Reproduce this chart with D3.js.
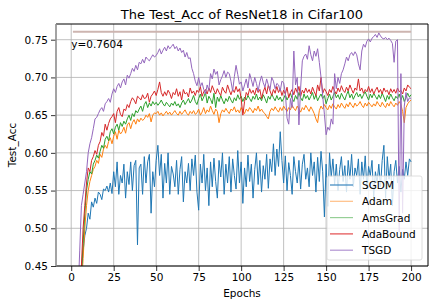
<!DOCTYPE html>
<html>
<head>
<meta charset="utf-8">
<script src="https://cdn.jsdelivr.net/npm/d3@7"></script>
<style>
  html, body { margin: 0; padding: 0; background: #fff; }
  svg text { font-family: "DejaVu Sans", sans-serif; fill: #000; }
</style>
</head>
<body>
<div id="chart"></div>
<script>
// series names and colours
const names = ["SGDM", "Adam", "AmsGrad", "AdaBound", "TSGD"];
const colors = ["#1f77b4", "#ff7f0e", "#2ca02c", "#d62728", "#9467bd"];
const legendColors = ["#3a86be", "#ffbf85", "#96cf96", "#e34a4b", "#b294d2"];

const xTicks = [0, 25, 50, 75, 100, 125, 150, 175, 200];
const yTicks = [0.45, 0.50, 0.55, 0.60, 0.65, 0.70, 0.75];
const bestAcc = 0.7604;

// test accuracy per epoch (1..200)
const sgdm = [
  0.08, 0.18, 0.26, 0.33, 0.39, 0.44, 0.47, 0.49, 0.50, 0.52,
  0.512, 0.535, 0.528, 0.540, 0.533, 0.548, 0.545, 0.538, 0.552, 0.550,
  0.556, 0.548, 0.560, 0.546, 0.575, 0.555, 0.588, 0.545, 0.570, 0.560,
  0.585, 0.540, 0.575, 0.558, 0.588, 0.550, 0.583, 0.590, 0.478, 0.580,
  0.585, 0.545, 0.595, 0.560, 0.588, 0.598, 0.520, 0.575, 0.555, 0.590,
  0.610, 0.570, 0.598, 0.540, 0.586, 0.560, 0.600, 0.545, 0.582, 0.572,
  0.555, 0.590, 0.545, 0.578, 0.595, 0.535, 0.575, 0.560, 0.586, 0.550,
  0.592, 0.570, 0.597, 0.548, 0.524, 0.585, 0.560, 0.598, 0.550, 0.580,
  0.530, 0.588, 0.555, 0.593, 0.562, 0.540, 0.590, 0.568, 0.600, 0.545,
  0.585, 0.560, 0.595, 0.548, 0.592, 0.570, 0.552, 0.603, 0.560, 0.588,
  0.533, 0.580, 0.555, 0.597, 0.562, 0.585, 0.540, 0.578, 0.600, 0.558,
  0.590, 0.548, 0.583, 0.565, 0.598, 0.553, 0.592, 0.575, 0.612, 0.570,
  0.605, 0.582, 0.628, 0.590, 0.560, 0.596, 0.550, 0.587, 0.570, 0.545,
  0.595, 0.575, 0.560, 0.590, 0.552, 0.585, 0.598, 0.565, 0.580, 0.555,
  0.600, 0.570, 0.588, 0.548, 0.594, 0.562, 0.602, 0.575, 0.515, 0.585,
  0.529, 0.600, 0.568, 0.592, 0.558, 0.585, 0.550, 0.578, 0.595, 0.562,
  0.583, 0.548, 0.590, 0.565, 0.598, 0.555, 0.580, 0.570, 0.592, 0.545,
  0.588, 0.565, 0.596, 0.552, 0.582, 0.570, 0.590, 0.540, 0.575, 0.560,
  0.585, 0.555, 0.590, 0.610, 0.540, 0.595, 0.565, 0.585, 0.530, 0.575,
  0.590, 0.560, 0.582, 0.548, 0.578, 0.565, 0.588, 0.570, 0.592, 0.588
];
const adam = [
  0.10, 0.19, 0.27, 0.33, 0.38, 0.42, 0.46, 0.50, 0.53, 0.55,
  0.562, 0.570, 0.578, 0.582, 0.590, 0.586, 0.598, 0.594, 0.605, 0.610,
  0.606, 0.615, 0.620, 0.612, 0.622, 0.628, 0.618, 0.630, 0.625, 0.628,
  0.634, 0.626, 0.637, 0.640, 0.632, 0.640, 0.644, 0.638, 0.645, 0.641,
  0.646, 0.643, 0.645, 0.650, 0.647, 0.652, 0.641, 0.650, 0.653, 0.652,
  0.655, 0.650, 0.653, 0.649, 0.652, 0.655, 0.651, 0.654, 0.650, 0.653,
  0.656, 0.652, 0.650, 0.655, 0.651, 0.654, 0.657, 0.652, 0.650, 0.655,
  0.652, 0.656, 0.651, 0.653, 0.658, 0.650, 0.654, 0.660, 0.652, 0.657,
  0.654, 0.662, 0.656, 0.651, 0.658, 0.655, 0.640, 0.652, 0.657, 0.654,
  0.659, 0.655, 0.652, 0.658, 0.656, 0.661, 0.654, 0.657, 0.653, 0.660,
  0.656, 0.652, 0.658, 0.655, 0.660, 0.657, 0.653, 0.659, 0.656, 0.662,
  0.655, 0.658, 0.654, 0.652, 0.648, 0.645, 0.655, 0.659, 0.656, 0.661,
  0.657, 0.654, 0.660, 0.656, 0.662, 0.658, 0.655, 0.660, 0.657, 0.663,
  0.659, 0.656, 0.662, 0.658, 0.654, 0.660, 0.657, 0.663, 0.659, 0.655,
  0.661, 0.657, 0.652, 0.645, 0.640, 0.656, 0.662, 0.658, 0.664, 0.660,
  0.657, 0.663, 0.659, 0.665, 0.661, 0.658, 0.664, 0.660, 0.666, 0.662,
  0.659, 0.665, 0.661, 0.667, 0.663, 0.660, 0.666, 0.662, 0.664, 0.668,
  0.663, 0.660, 0.666, 0.662, 0.667, 0.664, 0.661, 0.665, 0.662, 0.668,
  0.664, 0.661, 0.667, 0.663, 0.660, 0.666, 0.662, 0.668, 0.664, 0.661,
  0.666, 0.663, 0.668, 0.664, 0.655, 0.640, 0.660, 0.665, 0.668, 0.670
];
const amsgrad = [
  0.10, 0.20, 0.28, 0.35, 0.40, 0.44, 0.48, 0.52, 0.55, 0.565,
  0.575, 0.572, 0.585, 0.590, 0.597, 0.593, 0.602, 0.610, 0.606, 0.618,
  0.622, 0.616, 0.628, 0.632, 0.625, 0.634, 0.638, 0.630, 0.640, 0.635,
  0.642, 0.638, 0.645, 0.650, 0.643, 0.652, 0.648, 0.656, 0.653, 0.658,
  0.662, 0.655, 0.664, 0.668, 0.660, 0.666, 0.662, 0.668, 0.664, 0.667,
  0.663, 0.666, 0.670, 0.665, 0.662, 0.667, 0.664, 0.661, 0.666, 0.663,
  0.668, 0.662, 0.665, 0.660, 0.666, 0.670, 0.664, 0.668, 0.672, 0.666,
  0.670, 0.676, 0.668, 0.664, 0.672, 0.678, 0.669, 0.674, 0.680, 0.666,
  0.675, 0.671, 0.665, 0.679, 0.660, 0.674, 0.668, 0.676, 0.670, 0.665,
  0.672, 0.668, 0.675, 0.670, 0.666, 0.673, 0.669, 0.677, 0.671, 0.675,
  0.668, 0.674, 0.670, 0.676, 0.672, 0.668, 0.675, 0.671, 0.678, 0.670,
  0.674, 0.669, 0.677, 0.672, 0.666, 0.675, 0.671, 0.678, 0.673, 0.669,
  0.676, 0.670, 0.674, 0.668, 0.672, 0.677, 0.670, 0.675, 0.679, 0.672,
  0.668, 0.676, 0.671, 0.680, 0.673, 0.669, 0.678, 0.672, 0.676, 0.670,
  0.675, 0.680, 0.671, 0.677, 0.669, 0.674, 0.678, 0.672, 0.676, 0.665,
  0.672, 0.678, 0.670, 0.675, 0.680, 0.673, 0.677, 0.671, 0.679, 0.674,
  0.670, 0.677, 0.682, 0.673, 0.678, 0.671, 0.676, 0.680, 0.674, 0.678,
  0.672, 0.677, 0.681, 0.675, 0.670, 0.678, 0.673, 0.679, 0.675, 0.671,
  0.677, 0.672, 0.679, 0.674, 0.668, 0.676, 0.671, 0.678, 0.673, 0.669,
  0.675, 0.672, 0.678, 0.670, 0.676, 0.668, 0.673, 0.679, 0.674, 0.677
];
const adabound = [
  0.12, 0.22, 0.30, 0.36, 0.41, 0.45, 0.50, 0.53, 0.56, 0.58,
  0.575, 0.590, 0.595, 0.603, 0.598, 0.610, 0.615, 0.627, 0.622, 0.638,
  0.630, 0.639, 0.645, 0.648, 0.652, 0.640, 0.655, 0.660, 0.651, 0.648,
  0.658, 0.656, 0.664, 0.660, 0.668, 0.673, 0.670, 0.665, 0.675, 0.673,
  0.670, 0.677, 0.672, 0.673, 0.679, 0.667, 0.675, 0.678, 0.682, 0.676,
  0.684, 0.694, 0.680, 0.675, 0.681, 0.676, 0.683, 0.679, 0.672, 0.680,
  0.677, 0.685, 0.675, 0.681, 0.670, 0.684, 0.678, 0.680, 0.674, 0.686,
  0.679, 0.682, 0.676, 0.683, 0.680, 0.688, 0.675, 0.681, 0.684, 0.678,
  0.686, 0.680, 0.689, 0.683, 0.678, 0.685, 0.680, 0.676, 0.687, 0.682,
  0.679, 0.690, 0.683, 0.677, 0.684, 0.680, 0.688, 0.681, 0.685, 0.672,
  0.650, 0.668, 0.680, 0.676, 0.685, 0.679, 0.683, 0.677, 0.686, 0.680,
  0.684, 0.672, 0.681, 0.687, 0.678, 0.690, 0.682, 0.676, 0.684, 0.679,
  0.688, 0.680, 0.685, 0.676, 0.683, 0.678, 0.687, 0.673, 0.680, 0.684,
  0.677, 0.686, 0.680, 0.688, 0.675, 0.683, 0.679, 0.686, 0.680, 0.684,
  0.678, 0.687, 0.681, 0.676, 0.690, 0.682, 0.700, 0.679, 0.685, 0.681,
  0.676, 0.684, 0.680, 0.688, 0.682, 0.678, 0.686, 0.681, 0.689, 0.683,
  0.680, 0.687, 0.682, 0.690, 0.684, 0.679, 0.686, 0.683, 0.698, 0.682,
  0.686, 0.679, 0.684, 0.681, 0.688, 0.680, 0.685, 0.678, 0.683, 0.687,
  0.680, 0.684, 0.678, 0.686, 0.681, 0.683, 0.677, 0.685, 0.680, 0.684,
  0.679, 0.686, 0.681, 0.683, 0.678, 0.686, 0.682, 0.690, 0.687, 0.685
];
const tsgd = [
  0.16, 0.27, 0.35, 0.41, 0.47, 0.53, 0.545, 0.56, 0.575, 0.600,
  0.612, 0.620, 0.632, 0.645, 0.647, 0.652, 0.657, 0.660, 0.655, 0.665,
  0.668, 0.672, 0.667, 0.678, 0.685, 0.680, 0.688, 0.692, 0.686, 0.694,
  0.698, 0.690, 0.703, 0.699, 0.705, 0.712, 0.708, 0.716, 0.710, 0.720,
  0.718, 0.724, 0.719, 0.727, 0.724, 0.722, 0.726, 0.730, 0.727, 0.729,
  0.733, 0.738, 0.731, 0.736, 0.740, 0.735, 0.742, 0.738, 0.741, 0.744,
  0.738, 0.741, 0.735, 0.739, 0.733, 0.736, 0.727, 0.733, 0.725, 0.726,
  0.712, 0.705, 0.695, 0.689, 0.700, 0.688, 0.693, 0.684, 0.678, 0.690,
  0.683, 0.705, 0.698, 0.711, 0.704, 0.708, 0.690, 0.697, 0.702, 0.709,
  0.700, 0.707, 0.705, 0.695, 0.682, 0.701, 0.716, 0.704, 0.691, 0.694,
  0.682, 0.690, 0.698, 0.686, 0.705, 0.697, 0.688, 0.700, 0.692, 0.682,
  0.694, 0.702, 0.693, 0.687, 0.698, 0.690, 0.684, 0.700, 0.695, 0.685,
  0.692, 0.690, 0.682, 0.695, 0.693, 0.680, 0.646, 0.638, 0.672, 0.660,
  0.735, 0.690, 0.700, 0.637, 0.686, 0.722, 0.728, 0.731, 0.724, 0.742,
  0.730, 0.722, 0.735, 0.728, 0.738, 0.720, 0.700, 0.675, 0.651, 0.624,
  0.634, 0.630, 0.645, 0.638, 0.705, 0.685, 0.700, 0.692, 0.705, 0.710,
  0.718, 0.727, 0.722, 0.730, 0.733, 0.729, 0.734, 0.730, 0.718, 0.710,
  0.735, 0.744, 0.740, 0.748, 0.751, 0.747, 0.752, 0.754, 0.757, 0.753,
  0.759, 0.755, 0.752, 0.751, 0.753, 0.750, 0.752, 0.749, 0.745, 0.720,
  0.748, 0.750, 0.495, 0.705, 0.520, 0.662, 0.680, 0.668, 0.673, 0.672
];
const series = [sgdm, adam, amsgrad, adabound, tsgd];

// --- layout ---
const width = 436, height = 308;
const mLeft = 56, mRight = 428, mTop = 24, mBottom = 266;

const svg = d3.select("#chart").append("svg")
  .attr("width", width)
  .attr("height", height);

const x = d3.scaleLinear().domain([-8.95, 209.95]).range([mLeft, mRight]);
const y = d3.scaleLinear().domain([0.45, 0.7708]).range([mBottom, mTop]);

svg.append("clipPath").attr("id", "plotClip")
  .append("rect")
  .attr("x", mLeft).attr("y", mTop)
  .attr("width", mRight - mLeft).attr("height", mBottom - mTop);

// grid
svg.append("g").selectAll("line")
  .data(xTicks).enter().append("line")
  .attr("x1", d => x(d)).attr("x2", d => x(d))
  .attr("y1", mTop).attr("y2", mBottom)
  .attr("stroke", "#b0b0b0").attr("stroke-width", 0.8);
svg.append("g").selectAll("line")
  .data(yTicks).enter().append("line")
  .attr("x1", mLeft).attr("x2", mRight)
  .attr("y1", d => y(d)).attr("y2", d => y(d))
  .attr("stroke", "#b0b0b0").attr("stroke-width", 0.8);

// best accuracy line
svg.append("line")
  .attr("x1", x(1)).attr("x2", x(200))
  .attr("y1", y(bestAcc)).attr("y2", y(bestAcc))
  .attr("stroke", "#cdb5b0").attr("stroke-width", 2);
svg.append("text")
  .attr("x", x(0)).attr("y", y(bestAcc) + 16)
  .attr("font-size", "10.5px")
  .text("y=" + bestAcc);

// curves
const line = d3.line()
  .x((d, i) => x(i + 1))
  .y(d => y(d));

svg.append("g").attr("clip-path", "url(#plotClip)")
  .selectAll("path")
  .data(series).enter().append("path")
  .attr("d", line)
  .attr("fill", "none")
  .attr("stroke", (d, i) => colors[i])
  .attr("stroke-width", 1);

// axes
const xAxis = d3.axisBottom(x).tickValues(xTicks).tickSize(5).tickPadding(3);
const yAxis = d3.axisLeft(y).tickValues(yTicks).tickSize(5).tickPadding(3)
  .tickFormat(d3.format(".2f"));

const gx = svg.append("g").attr("transform", `translate(0,${mBottom})`).call(xAxis);
const gy = svg.append("g").attr("transform", `translate(${mLeft},0)`).call(yAxis);
[gx, gy].forEach(g => {
  g.select(".domain").remove();
  g.selectAll("text").attr("font-size", "10.5px").attr("font-family", "DejaVu Sans");
  g.selectAll("line").attr("stroke", "#000").attr("stroke-width", 0.8);
});

// frame
svg.append("line").attr("x1", mLeft).attr("x2", mRight).attr("y1", mTop).attr("y2", mTop)
  .attr("stroke", "#000").attr("stroke-width", 1);
svg.append("line").attr("x1", mRight).attr("x2", mRight).attr("y1", mTop).attr("y2", mBottom)
  .attr("stroke", "#000").attr("stroke-width", 1);
svg.append("line").attr("x1", mLeft).attr("x2", mRight).attr("y1", mBottom).attr("y2", mBottom)
  .attr("stroke", "#000").attr("stroke-width", 1);
svg.append("line").attr("x1", mLeft).attr("x2", mLeft).attr("y1", mTop).attr("y2", mBottom)
  .attr("stroke", "#8c8c8c").attr("stroke-width", 1.6);

// title and labels
svg.append("text")
  .attr("x", (mLeft + mRight) / 2).attr("y", 19)
  .attr("text-anchor", "middle").attr("font-size", "13px")
  .text("The Test_Acc of ResNet18 in Cifar100");
svg.append("text")
  .attr("x", (mLeft + mRight) / 2).attr("y", 297)
  .attr("text-anchor", "middle").attr("font-size", "10.5px")
  .text("Epochs");
svg.append("text")
  .attr("transform", `translate(16,${(mTop + mBottom) / 2}) rotate(-90)`)
  .attr("text-anchor", "middle").attr("font-size", "10.5px")
  .text("Test_Acc");

// legend
const legend = svg.append("g").attr("transform", "translate(327,176)");
legend.append("rect")
  .attr("width", 95).attr("height", 84).attr("rx", 2)
  .attr("fill", "#fff").attr("fill-opacity", 0.8)
  .attr("stroke", "#d6d6d6").attr("stroke-width", 0.8);
const item = legend.selectAll("g.item")
  .data(names).enter().append("g").attr("class", "item")
  .attr("transform", (d, i) => `translate(0,${9 + i * 16.3})`);
item.append("line")
  .attr("x1", 3).attr("x2", 26)
  .attr("stroke", (d, i) => legendColors[i]).attr("stroke-width", 1.2);
item.append("text")
  .attr("x", 35).attr("y", 4)
  .attr("font-size", "10.5px")
  .text(d => d);
</script>
</body>
</html>
